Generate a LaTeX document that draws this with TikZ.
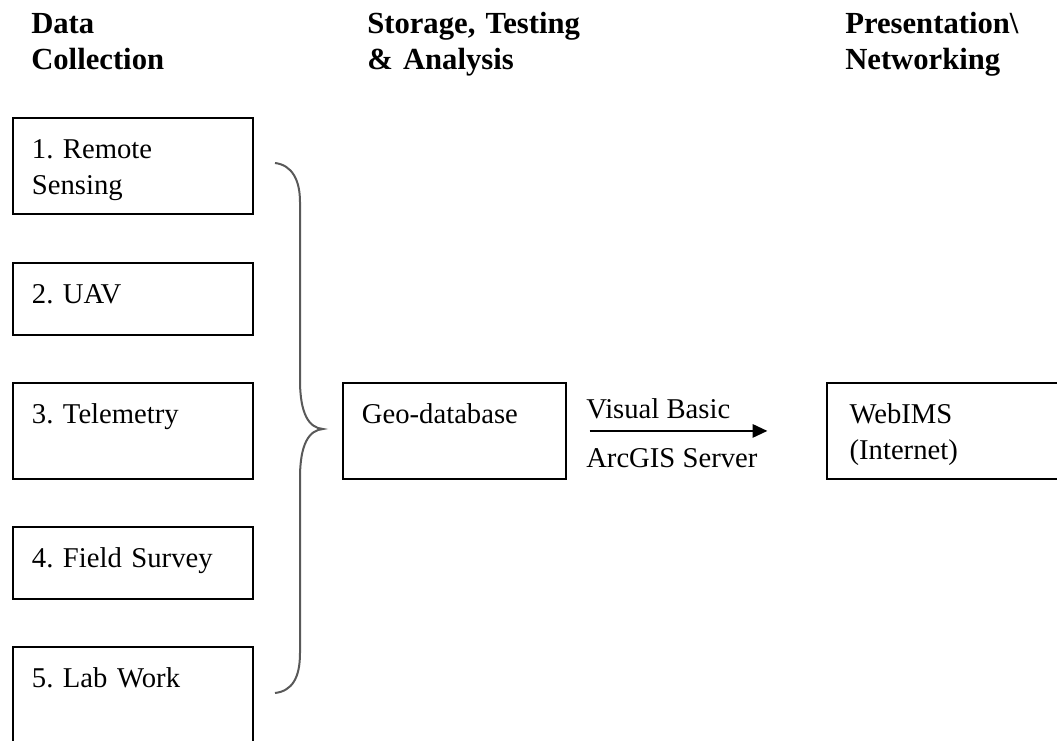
\documentclass[tikz,border=0pt]{standalone}
\usepackage{fontspec}
\setmainfont{Liberation Serif}
\usetikzlibrary{arrows.meta}
\frenchspacing

\begin{document}
\begin{tikzpicture}[x=0.75pt, y=-0.75pt,
    heading/.style={anchor=base west, inner sep=0pt, text width=200pt, align=left,
        font=\fontsize{23}{27}\selectfont\bfseries},
    box/.style={draw, line width=1.4pt, anchor=north west, inner xsep=14.25pt, inner ysep=0pt,
        align=left, text height=30.75pt, font=\fontsize{21.5}{27}\selectfont},
    tallbox/.style={box, text width=151.5pt, text depth=41.25pt},
    shortbox/.style={box, text width=151.5pt, text depth=23.25pt},
    lbl/.style={anchor=base west, inner sep=0pt, font=\fontsize{21.5}{27}\selectfont}]
            \useasboundingbox (0,0) rectangle (1057,740);
            \clip (0,0) rectangle (1057,740);

            % column headings
            \node[heading] (hcollect) at (31,33) {Data\\ Collection};
            \node[heading] (hstore) at (367,33) {Storage, Testing\\ \& Analysis};
            \node[heading] (hpresent) at (845,33) {Presentation\textbackslash\\ Networking};

            % data sources
            \node[tallbox] (remote) at (12,117) {1. Remote\\ Sensing};
            \node[shortbox] (uav) at (12,262) {2. UAV};
            \node[tallbox] (telemetry) at (12,382) {3. Telemetry};
            \node[shortbox] (survey) at (12,526) {4. Field Survey};
            \node[tallbox] (lab) at (12,646) {5. Lab Work};

            % brace
            \coordinate (bracetip) at (323,429);
            \draw[black!65, line width=1.5pt] (275,163) .. controls (292,165) and (300,180) .. (300,202)
                -- (300,380) .. controls (300,414) and (309,428) .. (bracetip)
                .. controls (309,430) and (300,444) .. (300,478)
                -- (300,653) .. controls (300,678) and (292,691) .. (275,693);

            \node[box, text width=138.75pt, text depth=41.25pt] (geodb) at (342,382) {Geo-database};
            \node[box, inner xsep=17pt, text width=200pt, text depth=41.25pt] (webims) at (826,382) {WebIMS\\ (Internet)};

            \draw[-{Triangle[length=11pt,width=10pt]}, line width=1.4pt, shorten <=17pt, shorten >=44pt] (geodb) -- (webims);
            \node[lbl] (vbasic) at (586,418) {Visual Basic};
            \node[lbl] (arcgis) at (586,467) {ArcGIS Server};
        \end{tikzpicture}
\end{document}
